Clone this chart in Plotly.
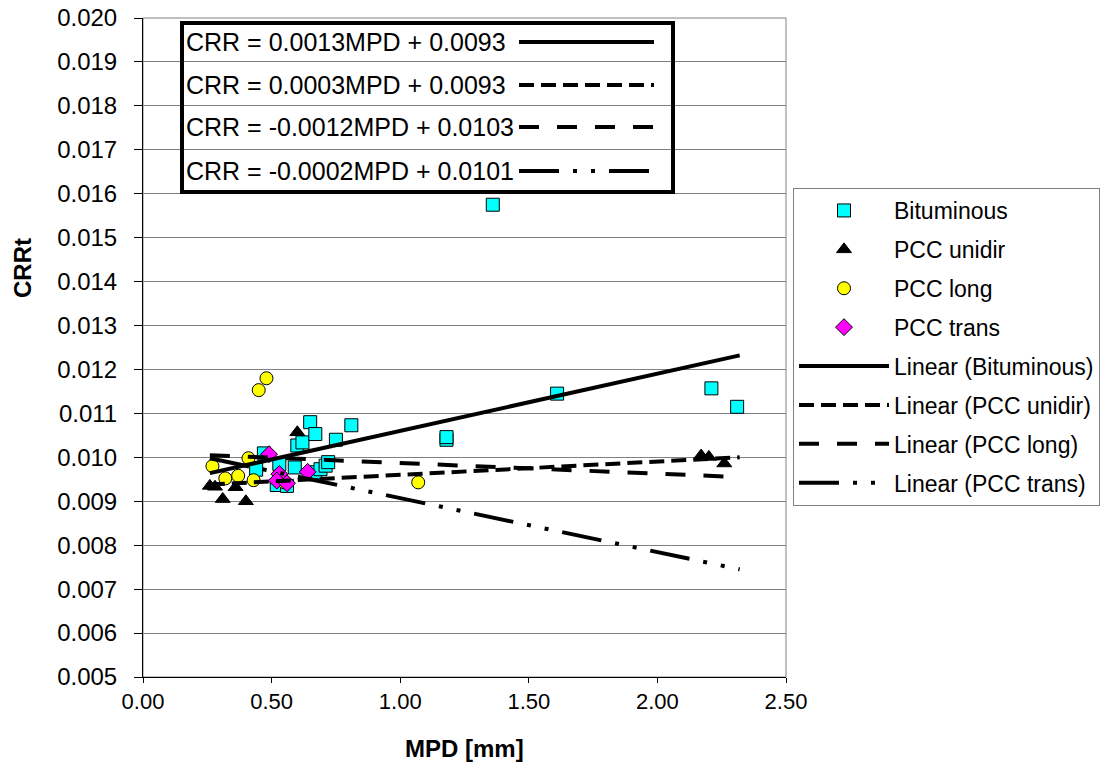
import plotly.graph_objects as go

###
# data
bit_x = [0.44, 0.47, 0.53, 0.52, 0.56, 0.59, 0.60, 0.62, 0.65, 0.67, 0.67, 0.69,
         0.71, 0.72, 0.75, 0.81, 1.18, 1.18, 1.36, 1.61, 2.21, 2.31]
bit_y = [0.00972, 0.01009, 0.00985, 0.00937, 0.00935, 0.00977, 0.01027, 0.01034,
         0.01080, 0.01053, 0.00966, 0.00973, 0.00981, 0.00989, 0.01040, 0.01073,
         0.01040, 0.01046, 0.01575, 0.01145, 0.01157, 0.01115]

unidir_x = [0.26, 0.28, 0.31, 0.36, 0.40, 0.60, 2.17, 2.20, 2.26]
unidir_y = [0.00935, 0.00933, 0.00905, 0.00932, 0.00900, 0.01057, 0.01004, 0.01001, 0.00986]

long_x = [0.27, 0.32, 0.37, 0.41, 0.43, 0.45, 0.48, 0.55, 1.07]
long_y = [0.00980, 0.00952, 0.00958, 0.00998, 0.00948, 0.01153, 0.01180, 0.00943, 0.00943]

trans_x = [0.49, 0.53, 0.52, 0.56, 0.64]
trans_y = [0.01007, 0.00962, 0.00947, 0.00941, 0.00967]

# trend line end points
trend_x = [0.26, 2.32]
bit_trend = [0.00964, 0.01232]
unidir_trend = [0.00938, 0.01000]
long_trend = [0.01005, 0.00955]
trans_trend = [0.00998, 0.00745]

equations = ["CRR = 0.0013MPD + 0.0093", "CRR = 0.0003MPD + 0.0093",
             "CRR = -0.0012MPD + 0.0103", "CRR = -0.0002MPD + 0.0101"]

FONT = "Liberation Sans, Arial, sans-serif"
OFF = 8                      # body margin of the html page
W, H = 1112 - 2 * OFF, 772 - 2 * OFF
L, R, T, B = 135, 778, 10, 669

def px(x, y):
  # page pixel position -> paper coords
  return (x - OFF - L) / (R - L), (B - (y - OFF)) / (B - T)

DASH_UNI = "15px,7px"
DASH_LONG = "20px,18px"
DASH_TRANS = "40px,14px,4px,14px,4px,14px"

def main():
  fig = go.Figure()

  pts = [
    ("Bituminous", bit_x, bit_y, "square", "#00FFFF", 13),
    ("PCC unidir", unidir_x, unidir_y, "triangle-up", "black", 13),
    ("PCC long", long_x, long_y, "circle", "#FFFF00", 13),
    ("PCC trans", trans_x, trans_y, "diamond", "#FF00FF", 13),
  ]
  for name, xs, ys, sym, col, sz in pts:
    fig.add_trace(go.Scatter(
      x=xs, y=ys, name=name, mode="markers", legendgroup=name,
      marker=dict(symbol=sym, color=col, size=sz, line=dict(color="black", width=1))
    ))

  lines = [
    ("Linear (Bituminous)", bit_trend, "solid"),
    ("Linear (PCC unidir)", unidir_trend, DASH_UNI),
    ("Linear (PCC long)", long_trend, DASH_LONG),
    ("Linear (PCC trans)", trans_trend, DASH_TRANS),
  ]
  for name, ys, dash in lines:
    fig.add_trace(go.Scatter(
      x=trend_x, y=ys, name=name, mode="lines", legendgroup=name,
      line=dict(color="black", width=4, dash=dash)
    ))

  shapes = []
  # gray frame of plot area
  shapes.append(dict(type="rect", xref="paper", yref="paper", x0=0, y0=0, x1=1, y1=1,
                     line=dict(color="#808080", width=1), layer="below"))

  # equation box
  bx0, by0 = px(182, 23)
  bx1, by1 = px(673, 192)
  shapes.append(dict(type="rect", xref="paper", yref="paper", x0=bx0, y0=by1, x1=bx1, y1=by0,
                     line=dict(color="black", width=4)))
  annotations = []
  row_y = [42, 85, 127, 171]
  dashes = ["solid", DASH_UNI, DASH_LONG, DASH_TRANS]
  for txt, ry, d in zip(equations, row_y, dashes):
    ax, ay = px(185, ry)
    annotations.append(dict(text=txt, xref="paper", yref="paper", x=ax, y=ay,
                            xanchor="left", yanchor="middle", showarrow=False,
                            bgcolor="white", borderpad=0,
                            font=dict(family=FONT, size=25, color="black")))
    lx0, ly = px(519, ry)
    lx1, _ = px(654, ry)
    shapes.append(dict(type="line", xref="paper", yref="paper", x0=lx0, x1=lx1, y0=ly, y1=ly,
                       line=dict(color="black", width=4, dash=d)))

  # axis titles
  tx, ty = px(22, 268)
  annotations.append(dict(text="<b>CRRt</b>", xref="paper", yref="paper", x=tx, y=ty,
                          xanchor="center", yanchor="middle",
                          textangle=-90, showarrow=False,
                          font=dict(family=FONT, size=24, color="black")))
  tx, ty = px(464, 748)
  annotations.append(dict(text="<b>MPD [mm]</b>", xref="paper", yref="paper", x=tx, y=ty,
                          xanchor="center", yanchor="middle",
                          showarrow=False, font=dict(family=FONT, size=24, color="black")))

  lgx, lgy = px(793, 188)
  fig.update_layout(
    width=W, height=H,
    margin=dict(l=L, r=W - R, t=T, b=H - B, autoexpand=False),
    paper_bgcolor="white", plot_bgcolor="white",
    font=dict(family=FONT, size=22, color="black"),
    showlegend=True,
    legend=dict(x=lgx, y=lgy, xanchor="left", yanchor="top",
                bordercolor="#808080", borderwidth=1, bgcolor="white",
                font=dict(family=FONT, size=23), tracegroupgap=6,
                itemwidth=90),
    shapes=shapes,
    annotations=annotations,
  )
  fig.update_xaxes(range=[0, 2.5], dtick=0.5, tickformat=".2f",
                   showgrid=False, zeroline=False,
                   showline=True, linecolor="black", linewidth=1,
                   ticks="outside", ticklen=5, tickcolor="black",
                   tickfont=dict(size=22), ticklabelstandoff=0,
                   ticklabeloverflow="allow")
  fig.update_yaxes(range=[0.005, 0.020], dtick=0.001, tickformat=".3f",
                   showgrid=True, gridcolor="#808080", gridwidth=1, zeroline=False,
                   showline=True, linecolor="black", linewidth=1,
                   ticks="outside", ticklen=8, tickcolor="black",
                   tickfont=dict(size=24), ticklabelstandoff=12,
                   ticklabeloverflow="allow")

  fig.write_html("out.html")

###
if __name__ == '__main__':
  main()
